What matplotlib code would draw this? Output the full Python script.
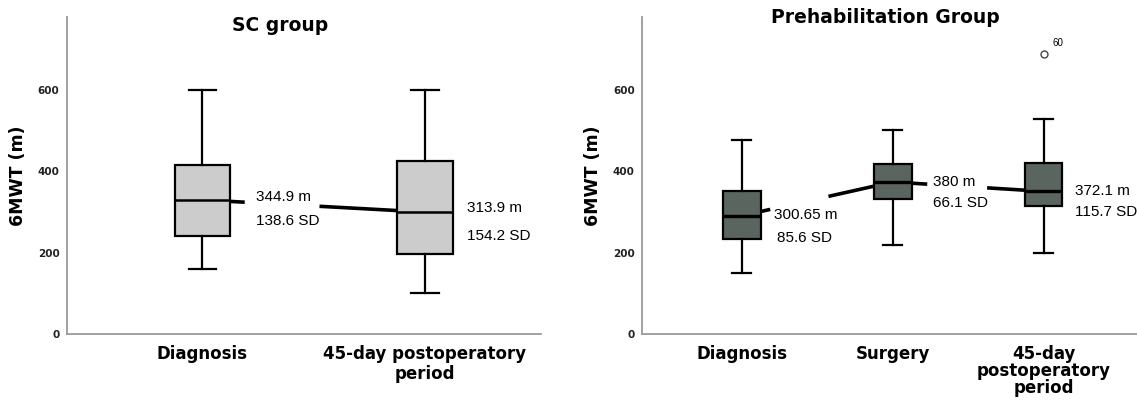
import matplotlib
matplotlib.use("Agg")
import matplotlib.pyplot as plt
import numpy as np

# SC group
sc_labels = ["Diagnosis", "45-day postoperatory\nperiod"]
sc_whislo = [160, 100]
sc_q1 = [242, 197]
sc_med = [330, 300]
sc_q3 = [416, 425]
sc_whishi = [600, 600]
sc_mean_txt = ["344.9 m", "313.9 m"]
sc_sd_txt = ["138.6 SD", "154.2 SD"]

# Prehabilitation group
pre_labels = ["Diagnosis", "Surgery", "45-day\npostoperatory\nperiod"]
pre_whislo = [149, 220, 200]
pre_q1 = [233, 331, 316]
pre_med = [291, 374, 351]
pre_q3 = [352, 418, 421]
pre_whishi = [477, 502, 528]
pre_fliers = [[], [], [690]]
pre_flier_ids = ["", "", "60"]
pre_mean_txt = ["300.65 m", "380 m", "372.1 m"]
pre_sd_txt = ["85.6 SD", "66.1 SD", "115.7 SD"]

bold = dict(family="DejaVu Sans", fontweight="bold")
plain = dict(family="Liberation Sans")


def make_stats(lo, q1, med, q3, hi, fl=None):
    out = []
    for i in range(len(med)):
        out.append(dict(whislo=lo[i], q1=q1[i], med=med[i], q3=q3[i],
                        whishi=hi[i], fliers=(fl[i] if fl else [])))
    return out


def style_axes(ax, labels, lsp):
    for s in ["top", "right"]:
        ax.spines[s].set_visible(False)
    for s in ["left", "bottom"]:
        ax.spines[s].set_color("#9a9a9a")
        ax.spines[s].set_linewidth(1.3)
    ax.set_ylim(0, 780)
    ax.set_yticks([0, 200, 400, 600])
    ax.tick_params(axis="both", length=0)
    ax.tick_params(axis="y", pad=5)
    ax.tick_params(axis="x", pad=8)
    for t in ax.get_yticklabels():
        t.set_fontsize(7.5)
        t.set_fontweight("bold")
        t.set_color("#222222")
    ax.set_xticks(range(1, len(labels) + 1))
    ax.set_xticklabels(labels, fontsize=12, linespacing=lsp, **bold)
    ax.set_ylabel("6MWT (m)", fontsize=12.5, labelpad=8, **bold)


def median_segments(ax, med, segs, lw):
    pos = np.arange(1, len(med) + 1)
    for a, b in segs:
        xs = np.array([a, b])
        ax.plot(xs, np.interp(xs, pos, med), color="black", lw=lw,
                solid_capstyle="butt", zorder=1)


fig = plt.figure(figsize=(11.37, 4), dpi=100)

# ---- left panel ----
ax1 = fig.add_axes([0.0585, 0.165, 0.417, 0.7925])
ax1.bxp(make_stats(sc_whislo, sc_q1, sc_med, sc_q3, sc_whishi),
        positions=[1, 2], widths=0.25, capwidths=0.125, patch_artist=True,
        showfliers=False,
        boxprops=dict(facecolor="#cccccc", edgecolor="black", linewidth=1.6),
        medianprops=dict(color="black", linewidth=1.8),
        whiskerprops=dict(color="black", linewidth=1.6),
        capprops=dict(color="black", linewidth=1.6))
ax1.set_xlim(0.389, 2.52)
style_axes(ax1, sc_labels, 1.1)
median_segments(ax1, sc_med, [(1.125, 1.19), (1.526, 1.875)], 2.6)
ax1.text(1.24, 337, sc_mean_txt[0], fontsize=11, va="center", **plain)
ax1.text(1.24, 279, sc_sd_txt[0], fontsize=11, va="center", **plain)
ax1.text(2.19, 310, sc_mean_txt[1], fontsize=11, va="center", **plain)
ax1.text(2.19, 241, sc_sd_txt[1], fontsize=11, va="center", **plain)
ax1.text(0.45, 0.972, "SC group", transform=ax1.transAxes, ha="center",
         va="center", fontsize=13.5, **bold)

# ---- right panel ----
ax2 = fig.add_axes([0.5643, 0.165, 0.4357, 0.7925])
ax2.bxp(make_stats(pre_whislo, pre_q1, pre_med, pre_q3, pre_whishi, pre_fliers),
        positions=[1, 2, 3], widths=0.25, capwidths=0.125, patch_artist=True,
        showfliers=True,
        boxprops=dict(facecolor="#5b655f", edgecolor="black", linewidth=1.6),
        medianprops=dict(color="black", linewidth=2.4),
        whiskerprops=dict(color="black", linewidth=1.6),
        capprops=dict(color="black", linewidth=1.6),
        flierprops=dict(marker="o", markersize=5, markerfacecolor="white",
                        markeredgecolor="#444444", markeredgewidth=1))
ax2.set_xlim(0.335, 3.62)
style_axes(ax2, pre_labels, 0.92)
median_segments(ax2, pre_med,
                [(1.125, 1.188), (1.574, 1.875), (2.125, 2.229), (2.626, 2.875)],
                2.6)
ax2.text(1.21, 292, pre_mean_txt[0], fontsize=11, va="center", **plain)
ax2.text(1.23, 235, pre_sd_txt[0], fontsize=11, va="center", **plain)
ax2.text(2.265, 374, pre_mean_txt[1], fontsize=11, va="center", **plain)
ax2.text(2.265, 323, pre_sd_txt[1], fontsize=11, va="center", **plain)
ax2.text(3.21, 352, pre_mean_txt[2], fontsize=11, va="center", **plain)
ax2.text(3.21, 299, pre_sd_txt[2], fontsize=11, va="center", **plain)
for i, ids in enumerate(pre_flier_ids):
    for v in pre_fliers[i]:
        ax2.text(i + 1 + 0.06, v + 25, ids, fontsize=7, va="center", **plain)
ax2.text(0.493, 0.997, "Prehabilitation Group", transform=ax2.transAxes,
         ha="center", va="center", fontsize=13.5, **bold)

fig.savefig("out.png", dpi=100)
